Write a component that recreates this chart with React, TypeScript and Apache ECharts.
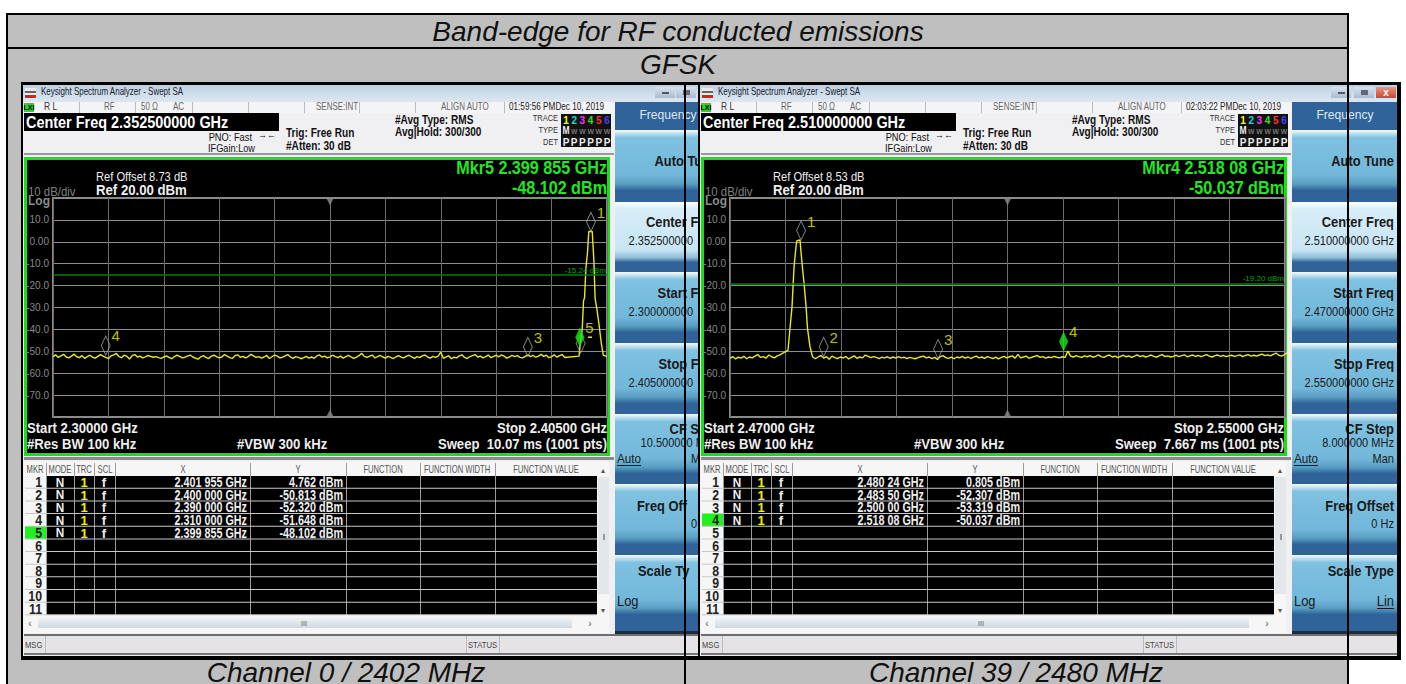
import React, { useEffect, useRef } from "react";
import * as echarts from "echarts";

const ARIAL = '"Liberation Sans",Arial,sans-serif';

const yTicksMin = -80;
const yTicksMax = 20;

// ---- left analyser (Channel 0) ----
const leftStart = 2300;
const leftStop = 2405;
const leftCenter = 2352.5;
const leftLimit = -15.24;
const leftFloorStep = 0.5;
const leftFloor = [
  -52.4,-51.6,-52.8,-52.1,-51.4,-52.6,-53.0,-52.2,-51.3,-52.5,-52.9,-52.0,-53.2,-52.4,-51.8,-52.7,-53.1,-52.3,-51.5,-52.2,
  -52.8,-53.3,-52.1,-51.6,-51.0,-52.4,-52.9,-51.7,-52.3,-53.5,-52.0,-51.5,-52.6,-52.2,-53.0,-52.5,-51.9,-52.3,-52.7,-52.4,
  -52.9,-53.2,-52.6,-52.1,-52.8,-53.4,-52.4,-51.8,-52.3,-53.0,-52.7,-52.2,-51.7,-52.6,-53.1,-53.6,-52.5,-52.0,-52.8,-53.3,
  -52.2,-51.8,-52.4,-53.0,-52.6,-51.5,-52.2,-52.9,-53.2,-52.0,-51.6,-52.7,-52.3,-53.0,-52.4,-51.4,-52.1,-52.8,-52.4,-53.1,
  -52.6,-51.9,-53.3,-52.5,-51.7,-52.2,-53.0,-52.7,-52.1,-51.5,-52.6,-53.2,-52.4,-52.8,-53.4,-52.9,-52.3,-53.1,-52.6,-53.2,
  -52.1,-51.6,-52.7,-52.2,-53.0,-52.5,-51.8,-52.4,-52.9,-52.2,-53.1,-52.4,-51.9,-52.6,-53.2,-52.7,-52.0,-50.9,-52.3,-52.8,
  -52.2,-51.7,-53.0,-52.4,-51.9,-52.6,-53.1,-52.3,-52.8,-53.3,-52.5,-52.0,-52.7,-53.0,-52.2,-51.8,-52.6,-53.2,-52.4,-52.9,
  -52.1,-51.7,-52.6,-53.1,-52.3,-52.8,-52.2,-50.4,-53.2,-52.5,-52.0,-53.4,-52.7,-53.0,-52.1,-51.6,-52.8,-53.3,-52.4,-52.0,
  -51.5,-52.6,-52.2,-53.0,-52.4,-51.7,-52.9,-52.3,-51.8,-52.5,-51.6,-52.2,-53.1,-52.6,-51.9,-52.4,-52.0,-52.8,-53.0,-52.3,
  -51.6,-52.4,-51.9,-52.7,-52.2,-51.4,-52.3,-51.8,-52.9,-52.4,-51.6,-52.7,-52.0,-51.5,-52.8,
];
const leftPeakFreq = [2399.7, 2399.86, 2400.3, 2400.55, 2400.75, 2401.0, 2401.3, 2401.55, 2401.8, 2402.2, 2402.5, 2402.75, 2403.1, 2403.5, 2403.9, 2404.3, 2405.0];
const leftPeakDb = [-52.2, -48.1, -40.0, -27.0, -25.5, -12.0, -5.0, 4.7, 4.76, 4.7, -8.0, -26.0, -31.0, -38.0, -46.0, -51.8, -52.3];
const leftMarkerFreq = [2401.955, 2400.0, 2390.0, 2310.0];
const leftMarkerDb = [4.762, -50.813, -52.32, -51.648];
const leftMarkerName = ["1", "", "3", "4"];
const leftActiveFreq = [2399.855];
const leftActiveDb = [-48.102];
const leftActiveName = ["5"];

// ---- right analyser (Channel 39) ----
const rightStart = 2470;
const rightStop = 2550;
const rightCenter = 2510;
const rightLimit = -19.2;
const rightLowStep = 0.4;
const rightLow = [
  -53.2,-52.4,-53.5,-52.7,-53.1,-52.3,-53.4,-52.6,-53.0,-52.2,-51.5,-52.8,-52.4,-53.1,-51.7,-52.5,-53.0,-52.1,-51.6,-50.8,
];
const rightHighStart = 2481.9;
const rightHighStep = 0.4;
const rightHigh = [
  -52.5,-53.4,-52.6,-51.9,-53.1,-52.4,-53.6,-52.2,-52.9,-53.3,-52.6,-53.0,-52.4,-53.5,-52.8,-52.1,-53.2,-52.6,-53.0,-51.7,
  -52.3,-52.9,-52.4,-52.8,-53.3,-52.7,-53.0,-52.5,-53.2,-52.6,-53.1,-52.4,-53.0,-52.7,-53.3,-52.8,-53.1,-53.4,-52.9,-52.5,
  -52.2,-53.0,-52.6,-53.3,-52.8,-53.7,-52.4,-52.0,-52.9,-53.2,-52.7,-53.4,-52.6,-53.0,-52.3,-53.1,-52.5,-53.3,-52.7,-52.2,
  -53.0,-52.6,-53.2,-52.4,-52.9,-53.3,-52.7,-53.5,-52.8,-52.3,-53.0,-52.5,-52.1,-53.1,-51.4,-53.0,-52.6,-52.2,-53.2,-52.7,
  -52.3,-51.9,-52.8,-52.4,-53.1,-52.6,-52.9,-52.3,-52.7,-53.0,-52.5,-52.8,-49.9,-52.2,-52.6,-52.0,-52.4,-52.8,-52.1,-52.5,
  -52.0,-52.7,-52.3,-51.6,-52.4,-52.8,-52.1,-51.7,-52.6,-52.2,-52.9,-52.3,-51.8,-52.5,-52.1,-52.8,-52.2,-51.6,-52.4,-52.0,
  -52.6,-52.2,-51.7,-52.3,-52.7,-52.0,-51.5,-52.4,-52.1,-52.6,-52.3,-51.8,-52.4,-52.0,-51.6,-52.5,-52.1,-51.7,-52.3,-51.9,
  -52.4,-52.0,-51.5,-52.2,-52.6,-52.0,-51.7,-52.3,-51.9,-52.4,-52.1,-51.8,-52.3,-52.0,-51.6,-52.4,-51.9,-51.5,-52.2,-51.8,
  -52.2,-51.7,-51.3,-52.0,-51.6,-52.1,-51.4,-50.8,-51.8,-52.2,-51.5,-50.7,-51.6,-51.9,
];
const rightPeakFreq = [2478.1, 2478.36, 2478.65, 2478.94, 2479.23, 2479.56, 2479.66, 2480.09, 2480.38, 2480.67, 2480.96, 2481.17, 2481.53];
const rightPeakDb = [-50.0, -49.5, -39.5, -29.6, -11.4, -0.9, 0.5, 0.8, -9.8, -18.8, -29.3, -39.5, -47.9];
const rightMarkerFreq = [2480.24, 2483.5, 2500.0];
const rightMarkerDb = [0.805, -52.307, -53.319];
const rightMarkerName = ["1", "2", "3"];
const rightActiveFreq = [2518.08];
const rightActiveDb = [-50.037];
const rightActiveName = ["4"];

// ---- texts ----
const tableTitle = "Band-edge for RF conducted emissions";
const tableSubtitle = "GFSK";
const channelLeft = "Channel 0 / 2402 MHz";
const channelRight = "Channel 39 / 2480 MHz";
const tableHeads = ["MKR", "MODE", "TRC", "SCL", "X", "Y", "FUNCTION", "FUNCTION WIDTH", "FUNCTION VALUE"];
const leftRowsX = ["2.401 955 GHz", "2.400 000 GHz", "2.390 000 GHz", "2.310 000 GHz", "2.399 855 GHz"];
const leftRowsY = ["4.762 dBm", "-50.813 dBm", "-52.320 dBm", "-51.648 dBm", "-48.102 dBm"];
const rightRowsX = ["2.480 24 GHz", "2.483 50 GHz", "2.500 00 GHz", "2.518 08 GHz"];
const rightRowsY = ["0.805 dBm", "-52.307 dBm", "-53.319 dBm", "-50.037 dBm"];

const leftPanel = {
  dx: 0, time: "01:59:56 PM", center: "Center Freq 2.352500000 GHz", offset: "Ref Offset 8.73 dB",
  mkr: "Mkr5 2.399 855 GHz", mkrY: "-48.102 dBm", start: "Start 2.30000 GHz", stop: "Stop 2.40500 GHz",
  sweep: "Sweep  10.07 ms (1001 pts)", centerV: "2.352500000 GHz", startV: "2.300000000 GHz", stopV: "2.405000000 GHz",
  cfV: "10.500000 MHz", rowsX: leftRowsX, rowsY: leftRowsY, active: 5,
};
const rightPanel = {
  dx: 677, time: "02:03:22 PM", center: "Center Freq 2.510000000 GHz", offset: "Ref Offset 8.53 dB",
  mkr: "Mkr4 2.518 08 GHz", mkrY: "-50.037 dBm", start: "Start 2.47000 GHz", stop: "Stop 2.55000 GHz",
  sweep: "Sweep  7.667 ms (1001 pts)", centerV: "2.510000000 GHz", startV: "2.470000000 GHz", stopV: "2.550000000 GHz",
  cfV: "8.000000 MHz", rowsX: rightRowsX, rowsY: rightRowsY, active: 4,
};

const BASE_Z = -5;

function R(x: number, y: number, w: number, h: number, fill: any, z = BASE_Z) {
  return { type: "rect", silent: true, z, shape: { x, y, width: w, height: h }, style: { fill } };
}
function T(x: number, y: number, text: string, o: any = {}) {
  const align = o.align ?? "left";
  return {
    type: "text", silent: true, z: o.z ?? BASE_Z, x, y, scaleX: o.sx ?? 1,
    style: {
      text, fill: o.fill ?? "#000",
      font: `${o.style ?? "normal"} ${o.weight ?? "normal"} ${o.size ?? 11}px ${o.family ?? ARIAL}`,
      align, textAlign: align, verticalAlign: "middle", textVerticalAlign: "middle",
    },
  };
}
const grad = (stops: [number, string][]) =>
  new echarts.graphic.LinearGradient(0, 0, 0, 1, stops.map(([offset, color]) => ({ offset, color })));

function buildWindow(p: any) {
  const d = p.dx;
  const e: any[] = [];
  const right = d === 0 ? 698 : 1397;
  const left = d + 23;
  // window body
  e.push(R(left, 85, right - left, 571, "#f0eff1"));
  e.push(R(left, 85, right - left, 17, grad([[0, "#bccfe2"], [0.5, "#d0deeb"], [1, "#dbe6f0"]])));
  e.push(R(left + 2, 88, 11, 11, "#e9e9e9"));
  e.push(R(left + 2, 95, 11, 3, "#d92020"));
  e.push(R(left + 2, 91, 11, 2, "#666"));
  e.push(T(d + 41, 92, "Keysight Spectrum Analyzer - Swept SA", { size: 10, fill: "#1a1a2a", sx: 0.8 }));
  // caption buttons
  const btnX = d === 0 ? [655, 676] : [1331, 1354];
  btnX.forEach((bx) => {
    e.push(R(bx, 87, 20, 11, grad([[0, "#d6e2ee"], [1, "#a9bccf"]])));
  });
  e.push(R(btnX[0] + 7, 92, 7, 2, "#556"));
  e.push(R(btnX[1] + 7, 90, 7, 5, "#667"));
  if (d !== 0) {
    e.push(R(1376, 87, 20, 11, grad([[0, "#e8957f"], [1, "#c9482f"]])));
    e.push(T(1386, 92, "x", { size: 10, fill: "#fff", weight: "bold", align: "center" }));
  }
  // status row
  e.push(R(left + 1, 102, 592, 11, "#f4f3f5"));
  e.push(R(d + 24, 103, 10, 9, "#2cd02c"));
  e.push(T(d + 29, 107, "LXI", { size: 7, weight: "bold", align: "center" }));
  [79, 135, 192, 248, 304, 359, 415, 504].forEach((x) => e.push(R(d + x, 102, 1, 11, "#bbb")));
  const gray = { size: 10, fill: "#666", sx: 0.8 };
  e.push(T(d + 44, 107, "R L", { size: 10, fill: "#333", sx: 0.85 }));
  e.push(T(d + 104, 107, "RF", gray));
  e.push(T(d + 141, 107, "50 Ω", gray));
  e.push(T(d + 173, 107, "AC", gray));
  e.push(T(d + 316, 107, "SENSE:INT", gray));
  e.push(T(d + 441, 107, "ALIGN AUTO", gray));
  e.push(T(d + 509, 107, p.time + "Dec 10, 2019", { size: 10, fill: "#222", sx: 0.82 }));
  // centre freq bar + settings
  e.push(R(d + 24, 113, 255, 18, "#000"));
  e.push(T(d + 26, 122, p.center, { size: 17, weight: "bold", fill: "#fff", sx: 0.85 }));
  e.push(R(left + 1, 153, 590, 2, "#9a9a9a"));
  e.push(T(d + 252, 137, "PNO: Fast", { size: 10, align: "right", fill: "#111", sx: 0.93 }));
  e.push(T(d + 255, 148, "IFGain:Low", { size: 10, align: "right", fill: "#111", sx: 0.92 }));
  e.push(T(d + 267, 135, "→←", { size: 9, align: "center", fill: "#111" }));
  const set = { size: 12, weight: "bold", fill: "#111", sx: 0.84 };
  e.push(T(d + 286, 133, "Trig: Free Run", set));
  e.push(T(d + 286, 146, "#Atten: 30 dB", set));
  e.push(T(d + 395, 120, "#Avg Type: RMS", set));
  e.push(T(d + 395, 132, "Avg|Hold: 300/300", set));
  const trc = { size: 9, align: "right", fill: "#333", sx: 0.83 };
  e.push(T(d + 558, 118, "TRACE", trc));
  e.push(T(d + 558, 130, "TYPE", trc));
  e.push(T(d + 558, 142, "DET", trc));
  e.push(R(d + 561, 114, 50, 33, "#111"));
  const traceCols = ["#ffff00", "#00e0e0", "#ff30ff", "#30e030", "#ff3030", "#4040ff"];
  ["1", "2", "3", "4", "5", "6"].forEach((s, i) => {
    e.push(T(d + 566 + i * 8.2, 120, s, { size: 10, weight: "bold", fill: traceCols[i], align: "center" }));
    e.push(T(d + 566 + i * 8.2, 142, "P", { size: 10, weight: "bold", fill: "#eee", align: "center" }));
    e.push(T(d + 566 + i * 8.2, 131, i === 0 ? "M" : "W", { size: i === 0 ? 10 : 8, weight: "bold", fill: i === 0 ? "#eee" : "#777", align: "center", sx: 0.85 }));
  });
  // plot frame
  e.push(R(d + 24, 157, 586, 299, "#16e016"));
  e.push(R(d + 27, 160, 580, 293, "#000"));
  e.push(T(d + 96, 177, p.offset, { size: 12, fill: "#eee", sx: 0.93 }));
  e.push(T(d + 96, 190, "Ref 20.00 dBm", { size: 15, weight: "bold", fill: "#eee", sx: 0.88 }));
  e.push(T(d + 28, 191, "10 dB/div", { size: 12, fill: "#808080", sx: 0.95 }));
  e.push(T(d + 28, 201, "Log", { size: 12, weight: "bold", fill: "#8c8c8c" }));
  const mk = { size: 19, weight: "bold", fill: "#22e622", align: "right", sx: 0.85 };
  e.push(T(d + 607, 168, p.mkr, mk));
  e.push(T(d + 607, 188, p.mkrY, mk));
  const foot = { size: 15, weight: "bold", fill: "#eee", sx: 0.875 };
  e.push(T(d + 27, 428, p.start, foot));
  e.push(T(d + 607, 428, p.stop, { ...foot, align: "right" }));
  e.push(T(d + 27, 444, "#Res BW 100 kHz", foot));
  e.push(T(d + 237, 444, "#VBW 300 kHz", foot));
  e.push(T(d + 607, 444, p.sweep, { ...foot, align: "right" }));
  // marker table
  e.push(R(left + 1, 457, 590, 3, "#8a8a8a"));
  e.push(R(left + 1, 462, 585, 171, "#f6f6f7"));
  e.push(R(d + 46, 476, 551, 139, "#000"));
  const colX = [46, 74, 94, 115, 250, 346, 420, 495];
  colX.forEach((x) => e.push(R(d + x, 463, 1, 152, "#9a9a9a")));
  const headCx = [35, 60, 84, 105, 183, 298, 383, 457, 546];
  tableHeads.forEach((h, i) =>
    e.push(T(d + headCx[i], 470, h, { size: 10, fill: "#555", align: "center", sx: 0.76 }))
  );
  for (let i = 0; i < 11; i++) {
    const y = 476 + i * 12.65;
    if (i + 1 === p.active) e.push(R(d + 25, y, 21, 12.5, "#22f022"));
    e.push(R(d + 25, y + 11.8, 572, 1, "#c8c8c8", BASE_Z));
    e.push(T(d + 42, y + 6.5, String(i + 1), { size: 14, weight: "bold", fill: "#222", align: "right", sx: 0.88 }));
    if (i < p.rowsX.length) {
      e.push(T(d + 60, y + 6.5, "N", { size: 13, weight: "bold", fill: "#eee", align: "center", sx: 0.9 }));
      e.push(T(d + 84, y + 6.5, "1", { size: 13, weight: "bold", fill: "#f0f000", align: "center" }));
      e.push(T(d + 104, y + 6.5, "f", { size: 13, weight: "bold", fill: "#eee", align: "center" }));
      const row = { size: 14, weight: "bold", fill: "#eee", align: "right", sx: 0.77 };
      e.push(T(d + 247, y + 6.5, p.rowsX[i], row));
      e.push(T(d + 343, y + 6.5, p.rowsY[i], row));
    }
  }
  // scroll bars
  e.push(R(d + 598, 477, 11, 117, "#e4e7ea"));
  e.push(R(d + 603, 534, 2, 6, "#999"));
  e.push(T(d + 603, 470, "▴", { size: 8, fill: "#555", align: "center", family: "DejaVu Sans" }));
  e.push(T(d + 603, 610, "▾", { size: 8, fill: "#555", align: "center", family: "DejaVu Sans" }));
  e.push(R(d + 38, 618, 534, 10, grad([[0, "#eef2f5"], [1, "#d0d8de"]])));
  e.push(T(d + 30, 623, "‹", { size: 10, fill: "#555", align: "center" }));
  e.push(T(d + 590, 623, "›", { size: 10, fill: "#555", align: "center" }));
  e.push(T(d + 304, 623, "III", { size: 7, fill: "#555", align: "center" }));
  // status bar
  e.push(R(left + 1, 634, right - left - 1, 2, "#6f6f6f"));
  e.push(R(left + 1, 636, right - left - 1, 17, "#e6e3e6"));
  e.push(R(left + 1, 653, right - left - 1, 2, "#777"));
  e.push(R(d + 45, 636, 1, 17, "#bbb"));
  e.push(R(d + 466, 636, 1, 17, "#bbb"));
  e.push(R(d + 499, 636, 1, 17, "#bbb"));
  e.push(T(d + 25, 645, "MSG", { size: 9, fill: "#444", sx: 0.85 }));
  e.push(T(d + 468, 645, "STATUS", { size: 9, fill: "#444", sx: 0.85 }));
  // soft keys
  const panelW = (d === 0 ? 698 : 1397) - (d + 615);
  e.push(R(d + 615, 102, panelW, 532, "#30639a"));
  e.push(R(d + 615, 631, panelW, 3, "#1c2c3e"));
  e.push(T(d + 668, 115, "Frequency", { size: 13, fill: "#dfe9f2", align: "center", sx: 0.93 }));
  const keyTops: [number, number, boolean][] = [
    [130, 190, false], [202, 262, true], [272, 332, false], [343, 403, false], [414, 473, false], [484, 544, false], [555, 614, false],
  ];
  keyTops.forEach(([a, b, sel]) => {
    e.push(
      R(d + 615, a, panelW, b - a,
        sel
          ? grad([[0, "#ffffff"], [0.12, "#d7edf8"], [0.8, "#c7e5f3"], [0.93, "#8dbcd6"], [1, "#35689c"]])
          : grad([[0, "#f6fbfd"], [0.13, "#7fc1e0"], [0.75, "#72b8da"], [0.9, "#5a9ec3"], [1, "#2f6a9a"]]))
    );
  });
  const key = { size: 15, weight: "bold", fill: "#1a1a1a", sx: 0.86 };
  const val = { size: 13, fill: "#1a1a1a", sx: 0.85 };
  // the first window's keys are cut off by the second window, so only their visible part is drawn
  const K = (full: string, visible: string, cutX: number, y: number, o: any) => {
    if (d === 0) { if (visible) e.push(T(cutX, y, visible, o)); }
    else e.push(T(1394, y, full, { ...o, align: "right" }));
  };
  K("Auto Tune", "Auto Tu", 654.5, 161, key);
  K("Center Freq", "Center F", 646, 222, key);
  K(p.centerV, "2.352500000 ", 628.6, 241, val);
  K("Start Freq", "Start F", 657.6, 293, key);
  K(p.startV, "2.300000000 ", 628.6, 312, val);
  K("Stop Freq", "Stop F", 658.5, 364, key);
  K(p.stopV, "2.405000000 ", 628.6, 383, val);
  K("CF Step", "CF S", 669.6, 429, key);
  K(p.cfV, "10.500000 M", 640.6, 443, val);
  e.push(T(d + 617, 459, "Auto", { size: 13, fill: "#1a1a1a", sx: 0.9 }));
  e.push(R(d + 617, 465, 24, 1, "#1a1a1a"));
  K("Man", "M", 691, 459, val);
  K("Freq Offset", "Freq Off", 637, 506, key);
  K("0 Hz", "0", 691, 524, val);
  K("Scale Type", "Scale Ty", 638, 571, key);
  e.push(T(d + 617, 601, "Log", { size: 14, fill: "#1a1a1a", sx: 0.92 }));
  if (d !== 0) {
    e.push(T(1394, 601, "Lin", { size: 14, fill: "#1a1a1a", align: "right", sx: 0.92 }));
    e.push(R(1377, 608, 17, 1, "#1a1a1a"));
  }
  return e;
}

function buildGraphic() {
  const e: any[] = [];
  const TITLE = { size: 28, style: "italic", fill: "#111", align: "center" };
  // report table behind
  e.push(R(7, 14, 1340, 670, "#bfbfbf"));
  e.push(T(678, 31, tableTitle, TITLE));
  e.push(T(678, 64, tableSubtitle, TITLE));
  e.push(T(346, 672, channelLeft, TITLE));
  e.push(T(1016, 672, channelRight, TITLE));
  // screenshot frame
  e.push(R(21, 82, 1380, 578, "#000"));
  e.push(...buildWindow(leftPanel));
  e.push(R(698, 82, 2, 578, "#000"));
  e.push(...buildWindow(rightPanel));
  // table rules drawn over everything
  const top = 40;
  e.push(R(6, 13, 1342, 2, "#000", top));
  e.push(R(7, 47, 1340, 2, "#000", top));
  e.push(R(6, 13, 2, 671, "#000", top));
  e.push(R(684, 82, 2, 602, "#000", top));
  e.push(R(1347, 13, 2, 671, "#000", top));
  e.push(R(588, 336.5, 4, 1.5, "#e8e820", top));
  return e;
}

function toPairs(freqs: number[], dbs: number[], start: number) {
  return freqs.map((f, i) => [f - start, dbs[i]]);
}

function buildSeries(g: number, s: any) {
  const mkScatter = (name: string, freq: number[], db: number[], names: string[], active: boolean) => ({
    type: "scatter", name, xAxisIndex: g, yAxisIndex: g, clip: false, animation: false, silent: true, z: active ? 6 : 5,
    symbol: "diamond", symbolSize: active ? [9, 20] : [9, 19], symbolOffset: [0, active ? -10 : -9.5],
    itemStyle: active ? { color: "#18e818", borderWidth: 0 } : { color: "rgba(0,0,0,0)", borderColor: "#a8a8a8", borderWidth: 1 },
    label: {
      show: true, position: "right", distance: 1, offset: [0, -9.5],
      color: "#f0f000", fontSize: 15, fontFamily: ARIAL,
      formatter: (p: any) => names[p.dataIndex],
    },
    data: toPairs(freq, db, s.start),
  });
  return [
    {
      type: "line", name: "trace", xAxisIndex: g, yAxisIndex: g, showSymbol: false, animation: false, silent: true, z: 3,
      lineStyle: { color: "#eaea18", width: 1.4 }, data: s.trace,
      markLine: {
        silent: true, symbol: "none", animation: false,
        lineStyle: { color: "#0b7a0b", width: 1.5, type: "solid" },
        label: {
          position: "insideEndTop", color: "#0fa00f", fontSize: 8, fontFamily: ARIAL, distance: 1,
          formatter: s.limitText, padding: 0,
        },
        data: [{ yAxis: s.limit }],
      },
    },
    mkScatter("markers", s.mf, s.md, s.mn, false),
    mkScatter("active", s.af, s.ad, s.an, true),
    {
      type: "scatter", name: "centre", xAxisIndex: g, yAxisIndex: g, clip: false, animation: false, silent: true, z: 4,
      symbol: "triangle", symbolSize: [7, 7],
      itemStyle: { color: "#8a8a8a" },
      data: [
        { value: [s.center - s.start, yTicksMax], symbolRotate: 180, symbolOffset: [0, 4] },
        { value: [s.center - s.start, yTicksMin], symbolOffset: [0, -4] },
      ],
    },
  ];
}

export default function App() {
  const ref = useRef<HTMLDivElement>(null);
  useEffect(() => {
    document.body.style.margin = "0";
    document.body.style.background = "#fff";
    const chart = echarts.init(ref.current!, null, { renderer: "svg" });
    const leftTrace = [
      ...leftFloor.map((v, i) => [i * leftFloorStep, v]),
      ...toPairs(leftPeakFreq, leftPeakDb, leftStart),
    ];
    const rightTrace = [
      ...rightLow.map((v, i) => [i * rightLowStep, v]),
      ...toPairs(rightPeakFreq, rightPeakDb, rightStart),
      ...rightHigh.map((v, i) => [rightHighStart - rightStart + i * rightHighStep, v]),
    ];
    const grid = (left: number, width: number) => ({
      left, top: 198, width, height: 219, show: true,
      backgroundColor: "rgba(0,0,0,0)", borderColor: "#8a8a8a", borderWidth: 2,
    });
    const xAxis = (g: number, span: number) => ({
      type: "value", gridIndex: g, min: 0, max: span, interval: span / 10, silent: true,
      axisLabel: { show: false }, axisTick: { show: false }, axisLine: { show: false },
      splitLine: { show: true, lineStyle: { color: "#6a6a6a", width: 1 } },
    });
    const yAxis = (g: number) => ({
      type: "value", gridIndex: g, min: yTicksMin, max: yTicksMax, interval: 10, silent: true,
      axisTick: { show: false }, axisLine: { show: false },
      axisLabel: {
        color: "#8a8a8a", fontSize: 10, fontFamily: ARIAL, margin: 4,
        formatter: (v: number) => (v === yTicksMax || v === yTicksMin ? "" : v === 0 ? "0.00" : v.toFixed(1)),
      },
      splitLine: { show: true, lineStyle: { color: "#8c8c8c", width: 1 } },
    });
    chart.setOption({
      animation: false,
      backgroundColor: "#fff",
      grid: [grid(53, 554), grid(730, 555)],
      xAxis: [xAxis(0, leftStop - leftStart), xAxis(1, rightStop - rightStart)],
      yAxis: [yAxis(0), yAxis(1)],
      graphic: { elements: buildGraphic() },
      series: [
        ...buildSeries(0, {
          start: leftStart, center: leftCenter, limit: leftLimit, limitText: "-15.24 dBm", trace: leftTrace,
          mf: leftMarkerFreq, md: leftMarkerDb, mn: leftMarkerName,
          af: leftActiveFreq, ad: leftActiveDb, an: leftActiveName,
        }),
        ...buildSeries(1, {
          start: rightStart, center: rightCenter, limit: rightLimit, limitText: "-19.20 dBm", trace: rightTrace,
          mf: rightMarkerFreq, md: rightMarkerDb, mn: rightMarkerName,
          af: rightActiveFreq, ad: rightActiveDb, an: rightActiveName,
        }),
      ],
    });
    return () => chart.dispose();
  }, []);
  return <div ref={ref} style={{ width: 1406, height: 684, position: "absolute", left: 0, top: 0 }} />;
}
